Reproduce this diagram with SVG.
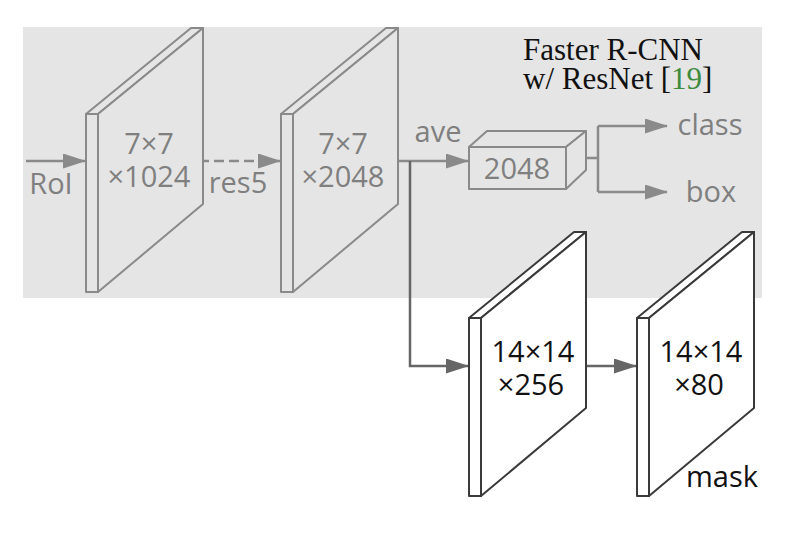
<svg xmlns="http://www.w3.org/2000/svg" width="790" height="546" viewBox="0 0 790 546">
<style>
.bg{fill:#e5e5e5}
.gp{fill:#e5e5e5;stroke:#8a8a8a;stroke-width:2;stroke-linejoin:round}
.wp{fill:#ffffff;stroke:#3a3a3a;stroke-width:2;stroke-linejoin:round}
.gt{font-family:"Open Sans","Liberation Sans",sans-serif;font-size:29px;fill:#7f7f7f;text-anchor:middle}
.bt{font-family:"Open Sans","Liberation Sans",sans-serif;font-size:29px;fill:#111111;text-anchor:middle}
.ttl{font-family:"Liberation Serif","Times New Roman",serif;font-size:31px;fill:#111111}
.gl{fill:none;stroke:#8a8a8a;stroke-width:2.5}
.dl{fill:none;stroke:#666666;stroke-width:2.5}
</style>
<defs>
<marker id="ag" viewBox="0 0 23 15" refX="22" refY="7.5" markerWidth="23" markerHeight="15" markerUnits="userSpaceOnUse" orient="auto">
<path d="M0,0 L23,7.5 L0,15 z" fill="#8a8a8a"/>
</marker>
<marker id="ad" viewBox="0 0 23 15" refX="22" refY="7.5" markerWidth="23" markerHeight="15" markerUnits="userSpaceOnUse" orient="auto">
<path d="M0,0 L23,7.5 L0,15 z" fill="#666666"/>
</marker>
</defs>
<rect class="bg" x="23" y="27" width="739" height="271"/>

<g id="title">
<text class="ttl" x="523" y="60">Faster R-CNN</text>
<text class="ttl" x="523" y="89">w/ ResNet [<tspan fill="#3d8b3d">19</tspan>]</text>
</g>

<g id="connectors">
<path class="gl" d="M26,161 H85" marker-end="url(#ag)"/>
<path class="gl" d="M199,161 H280" stroke-dasharray="10,5" marker-end="url(#ag)"/>
<path class="gl" d="M392,161 H468" marker-end="url(#ag)"/>
<path class="dl" d="M410,161 V366 H468" marker-end="url(#ad)"/>
<path class="gl" d="M578,158 H598"/>
<path class="gl" d="M598,126 V192"/>
<path class="gl" d="M598,126 H667" marker-end="url(#ag)"/>
<path class="gl" d="M598,192 H667" marker-end="url(#ag)"/>
<path class="dl" d="M577,366 H636" marker-end="url(#ad)"/>
</g>

<g id="labels">
<text class="gt" x="51" y="194">RoI</text>
<text class="gt" x="238" y="193">res5</text>
<text class="gt" x="438" y="142">ave</text>
<text class="gt" x="710" y="135">class</text>
<text class="gt" x="711" y="202">box</text>
</g>

<g id="panel1">
<rect class="gp" x="86" y="114" width="12" height="178"/>
<polygon class="gp" points="86,114 191,28 203,28 98,114"/>
<polygon class="gp" points="98,114 203,28 203,204 98,292"/>
<text class="gt" x="149" y="154">7×7</text>
<text class="gt" x="149" y="187">×1024</text>
</g>

<g id="panel2">
<rect class="gp" x="281" y="114" width="12" height="178"/>
<polygon class="gp" points="281,114 386,28 398,28 293,114"/>
<polygon class="gp" points="293,114 398,28 398,204 293,292"/>
<text class="gt" x="343" y="154">7×7</text>
<text class="gt" x="343" y="187">×2048</text>
</g>

<g id="fc2048">
<polygon class="gp" points="469,147 487,131 586,131 566,147"/>
<polygon class="gp" points="566,147 586,131 586,170 566,189"/>
<rect class="gp" x="469" y="147" width="97" height="42"/>
<text class="gt" x="517" y="179">2048</text>
</g>

<g id="panel3">
<rect class="wp" x="469" y="318" width="12" height="178"/>
<polygon class="wp" points="469,318 574,232 586,232 481,318"/>
<polygon class="wp" points="481,318 586,232 586,408 481,496"/>
<text class="bt" x="533" y="362">14×14</text>
<text class="bt" x="531" y="395">×256</text>
</g>

<g id="panel4">
<rect class="wp" x="637" y="318" width="12" height="178"/>
<polygon class="wp" points="637,318 742,232 754,232 649,318"/>
<polygon class="wp" points="649,318 754,232 754,408 649,496"/>
<text class="bt" x="701" y="362">14×14</text>
<text class="bt" x="699" y="395">×80</text>
<text class="bt" x="722" y="487">mask</text>
</g>
</svg>
